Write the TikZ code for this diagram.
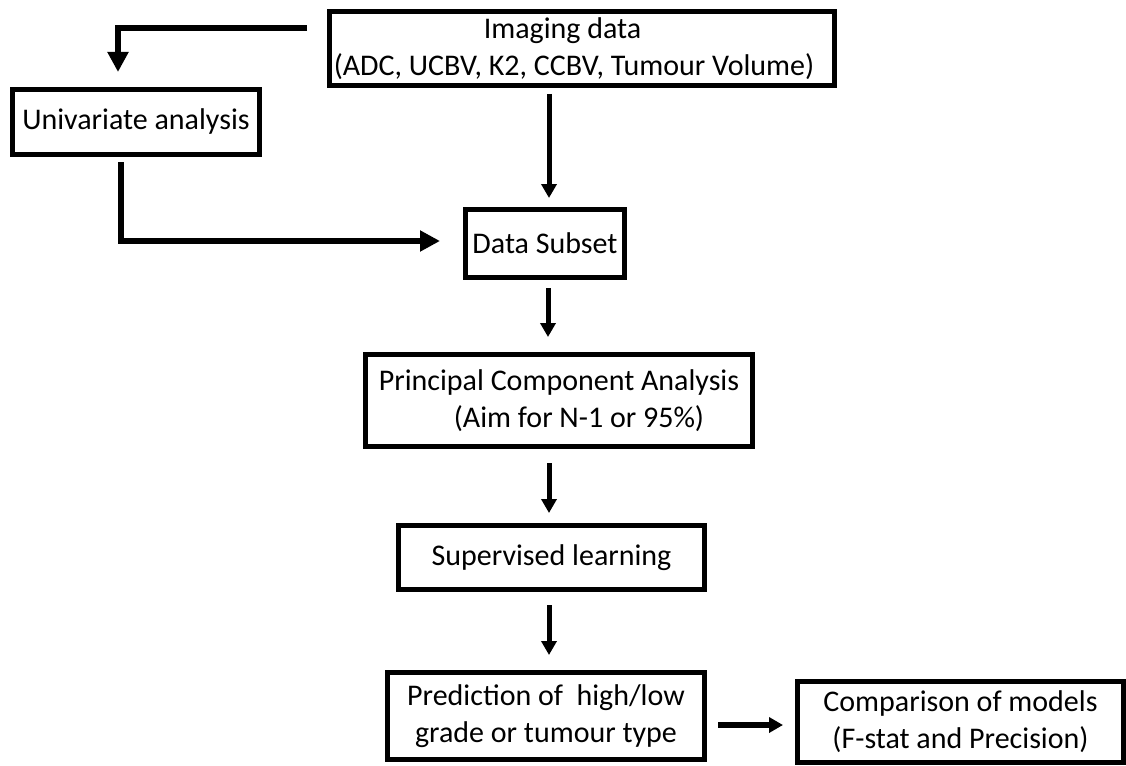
\documentclass[tikz,border=0pt]{standalone}
\usepackage{fontspec}
\setmainfont{Carlito}
\usetikzlibrary{arrows.meta}
\begin{document}
\begin{tikzpicture}[x=1pt,y=-1pt,
  box/.style={draw, line width=5pt, inner sep=0pt, outer sep=0pt, font=\fontsize{30}{37}\selectfont},
  bent/.style={line width=6.5pt, line join=miter, -{Triangle[width=20pt,length=20pt]}},
  straight/.style={line width=5pt, -{Triangle[width=15pt,length=14pt]}}]
\useasboundingbox (0,0) rectangle (1126,765);
\node[box, minimum width=505pt, minimum height=74pt, align=left] (img) at (582,48.5)
  {\hspace*{150pt}Imaging data\\(ADC, UCBV, K2, CCBV, Tumour Volume)\hspace*{16pt}};
\node[box, minimum width=247pt, minimum height=65pt] (uni) at (136,122) {Univariate analysis};
\node[box, minimum width=159pt, minimum height=68pt] (sub) at (545,243.5) {Data Subset};
\node[box, minimum width=387pt, minimum height=92pt, align=left] (pca) at (559,400.5)
  {Principal Component Analysis\\\hspace*{75pt}(Aim for N-1 or 95\%)};
\node[box, minimum width=306pt, minimum height=64pt] (sup) at (551.5,557.5) {Supervised learning};
\node[box, minimum width=317pt, minimum height=87pt, align=center] (pred) at (546,716)
  {Prediction of\ \ high/low\\grade or tumour type};
\node[box, minimum width=326pt, minimum height=81pt, align=center] (cmp) at (960.5,722)
  {Comparison of models\\(F-stat and Precision)};
% connectors
\draw[bent] ([shift={(-22.5,-20.5)}]img.west) -| ([shift={(-18,-17.5)}]uni.north);
\draw[straight] ([shift={(-33,8.5)}]img.south) -- ([shift={(4,-11.5)}]sub.north);
\draw[bent] ([shift={(-15,7.5)}]uni.south) |- ([shift={(-25.5,-2.5)}]sub.west);
\draw[straight] ([shift={(3,10.5)}]sub.south) -- ([shift={(-11,-17.5)}]pca.north);
\draw[straight] ([shift={(-10,16.5)}]pca.south) -- ([shift={(-2.5,-12.5)}]sup.north);
\draw[straight] ([shift={(-2.5,15.5)}]sup.south) -- ([shift={(3,-17.5)}]pred.north);
\draw[straight, line width=6pt] ([shift={(13.5,9)}]pred.east) -- ([shift={(-14.5,3)}]cmp.west);
\end{tikzpicture}
\end{document}
